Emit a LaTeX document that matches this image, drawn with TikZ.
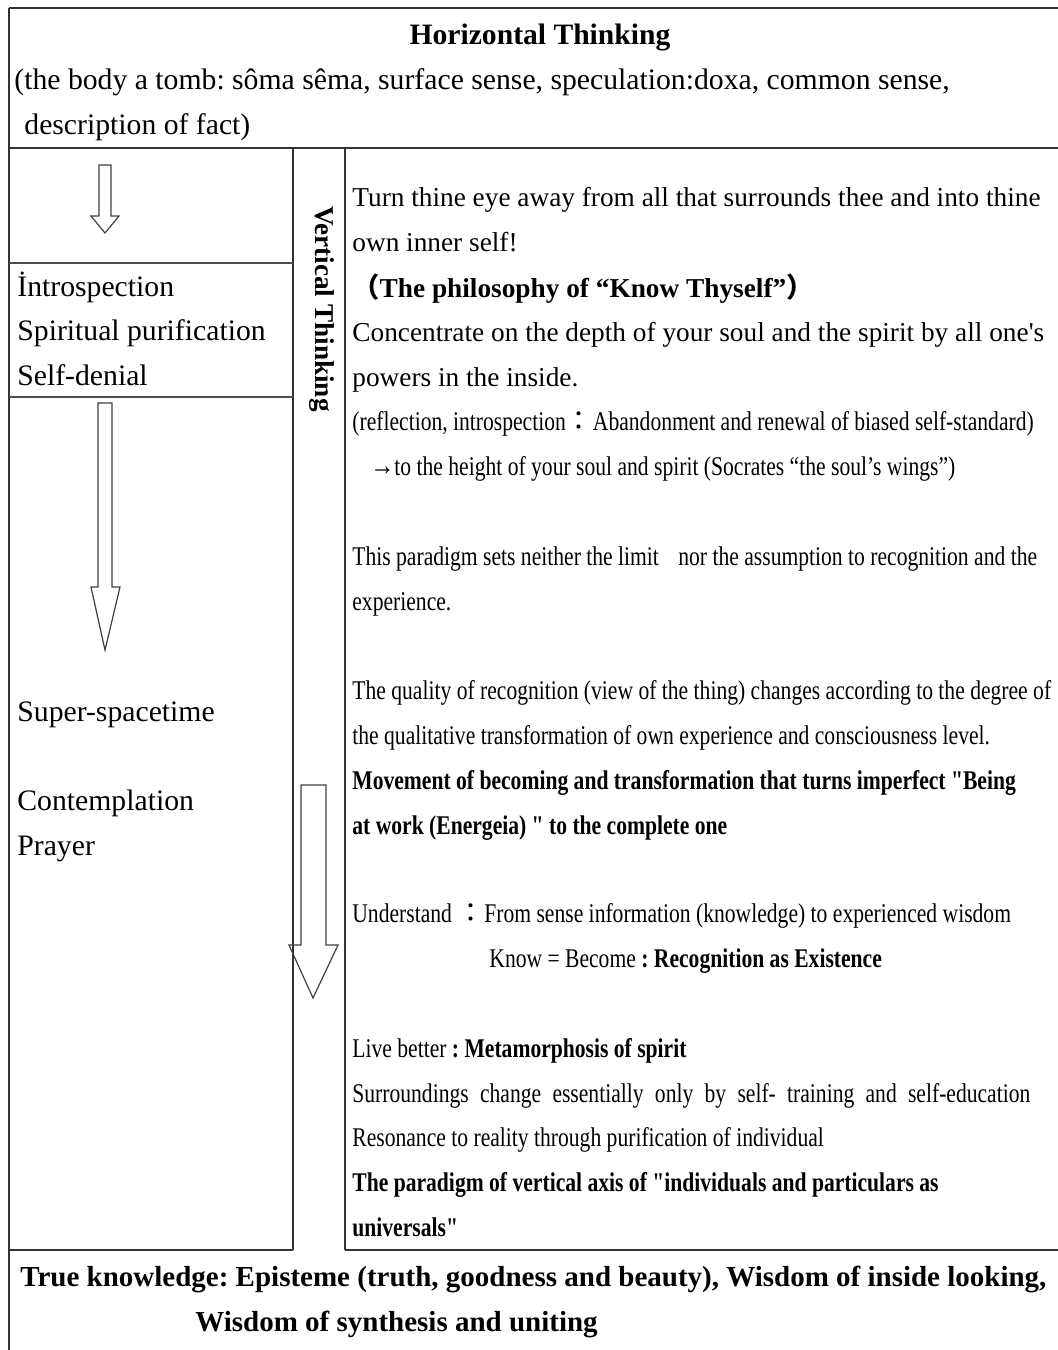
\documentclass[tikz,border=0pt]{standalone}
\usepackage{fontspec}
\setmainfont{Liberation Serif}
\newfontfamily\narrowfont[FakeStretch=0.8]{Liberation Serif}
\newfontfamily\cjk{Noto Sans CJK JP}
\usepackage{tikz}
\frenchspacing
\tikzset{
    txt/.style={anchor=base west, inner sep=0pt},
    rtext/.style={txt, font=\fontsize{13.65}{16}\selectfont},
    ntext/.style={txt, font=\narrowfont\fontsize{13.5}{16}\selectfont},
    nbold/.style={txt, font=\narrowfont\bfseries\fontsize{13.5}{16}\selectfont},
    ltext/.style={txt, font=\fontsize{14.85}{17}\selectfont},
    btext/.style={txt, font=\bfseries\fontsize{14.5}{17}\selectfont},
    boxline/.style={line width=1.1pt, draw=black!80},
    cellrule/.style={line width=0.6pt, draw=black!70},
    hollow/.style={line width=0.6pt, draw=black!75, line join=miter},
}

\begin{document}
\begin{tikzpicture}[x=0.5pt, y=-0.5pt]
    \useasboundingbox (0,0) rectangle (1058,1350);
    % frame
    \draw[boxline](9,8)--(1058,8);
    \draw[boxline](9,8)--(9,1350);
    \draw[boxline](9,148)--(1058,148);
    \draw[boxline](293,148)--(293,1250);
    \draw[boxline](345,148)--(345,1250);
    \draw[boxline](9,1250)--(293,1250);
    \draw[boxline](345,1250)--(1058,1250);
    \draw[cellrule](9,263)--(293,263);
    \draw[cellrule](9,397)--(293,397);

    % arrows
    \draw[hollow](99,165)--(111,165)--(111,216)--(119,216)--(105,233)--(91,216)--(99,216)--cycle;
    \draw[hollow](98,403)--(112,403)--(112,587)--(120,587)--(105,650)--(91,587)--(98,587)--cycle;
    \draw[hollow](301,785)--(326,785)--(326,945)--(338,945)--(313,998)--(289,945)--(301,945)--cycle;

    % horizontal thinking
    \node[anchor=base, inner sep=0pt, font=\bfseries\fontsize{14.8}{17}\selectfont] (htitle) at (540,44) {Horizontal Thinking};
    \node[ltext] (hsub1) at (14,89) {(the body a tomb: sôma sêma, surface sense, speculation:doxa, common sense,};
    \node[ltext] (hsub2) at (24,134) {description of fact)};

    % left column
    \node[ltext] (lintro) at (17,296) {İntrospection};
    \node[ltext] (lspirit) at (17,340) {Spiritual purification};
    \node[ltext] (lself) at (17,385) {Self-denial};
    \node[ltext] (lsuper) at (17,721) {Super-spacetime};
    \node[ltext] (lcontemp) at (17,810) {Contemplation};
    \node[ltext] (lprayer) at (17,855) {Prayer};

    % vertical thinking
    \node[rotate=-90, inner sep=0pt, font=\bfseries\fontsize{13.6}{16}\selectfont] (vtitle) at (322,309) {Vertical Thinking};

    % right column
    \node[rtext] (turn) at (352,206) {Turn thine eye away from all that surrounds thee and into thine};
    \node[rtext] (inner) at (352,251) {own inner self!};
    \node[rtext, font=\bfseries\fontsize{13.65}{16}\selectfont] (know) at (352,297) {{\cjk （}The philosophy of “Know Thyself”{\cjk ）}};
    \node[rtext] (concentrate) at (352,341) {Concentrate on the depth of your soul and the spirit by all one\textquotesingle s};
    \node[rtext] (powers) at (352,386) {powers in the inside.};
    \node[ntext] (reflection) at (352,430) {(reflection, introspection{\cjk ：}Abandonment and renewal of biased self-standard)};
    \node[ntext] (height) at (370,475) {{\fontsize{15}{16}\selectfont →}to the height of your soul and spirit (Socrates “the soul’s wings”)};
    \node[ntext] (paradigm) at (352,565) {This paradigm sets neither the limit\hspace{7pt} nor the assumption to recognition and the};
    \node[ntext] (experience) at (352,610) {experience.};
    \node[ntext] (quality) at (352,699) {The quality of recognition (view of the thing) changes according to the degree of};
    \node[ntext] (qualitative) at (352,744) {the qualitative transformation of own experience and consciousness level.};
    \node[nbold] (movement) at (352,789) {Movement of becoming and transformation that turns imperfect "Being};
    \node[nbold] (energeia) at (352,834) {at work (Energeia) " to the complete one};
    \node[ntext] (understand) at (352,922) {Understand {\cjk ：}From sense information (knowledge) to experienced wisdom};
    \node[ntext] (become) at (489,967) {Know = Become \textbf{: Recognition as Existence}};
    \node[ntext] (live) at (352,1057) {Live better \textbf{: Metamorphosis of spirit}};
    \node[ntext] (surround) at (352,1102) {\makebox[339pt][s]{Surroundings change essentially only by self- training and self-education}};
    \node[ntext] (resonance) at (352,1146) {Resonance to reality through purification of individual};
    \node[nbold] (vaxis) at (352,1191) {The paradigm of vertical axis of "individuals and particulars as};
    \node[nbold] (universals) at (352,1236) {universals"};

    % bottom
    \node[btext] (true1) at (20,1286) {True knowledge: Episteme (truth, goodness and beauty), Wisdom of inside looking,};
    \node[btext] (true2) at (195,1331) {Wisdom of synthesis and uniting};
\end{tikzpicture}
\end{document}
